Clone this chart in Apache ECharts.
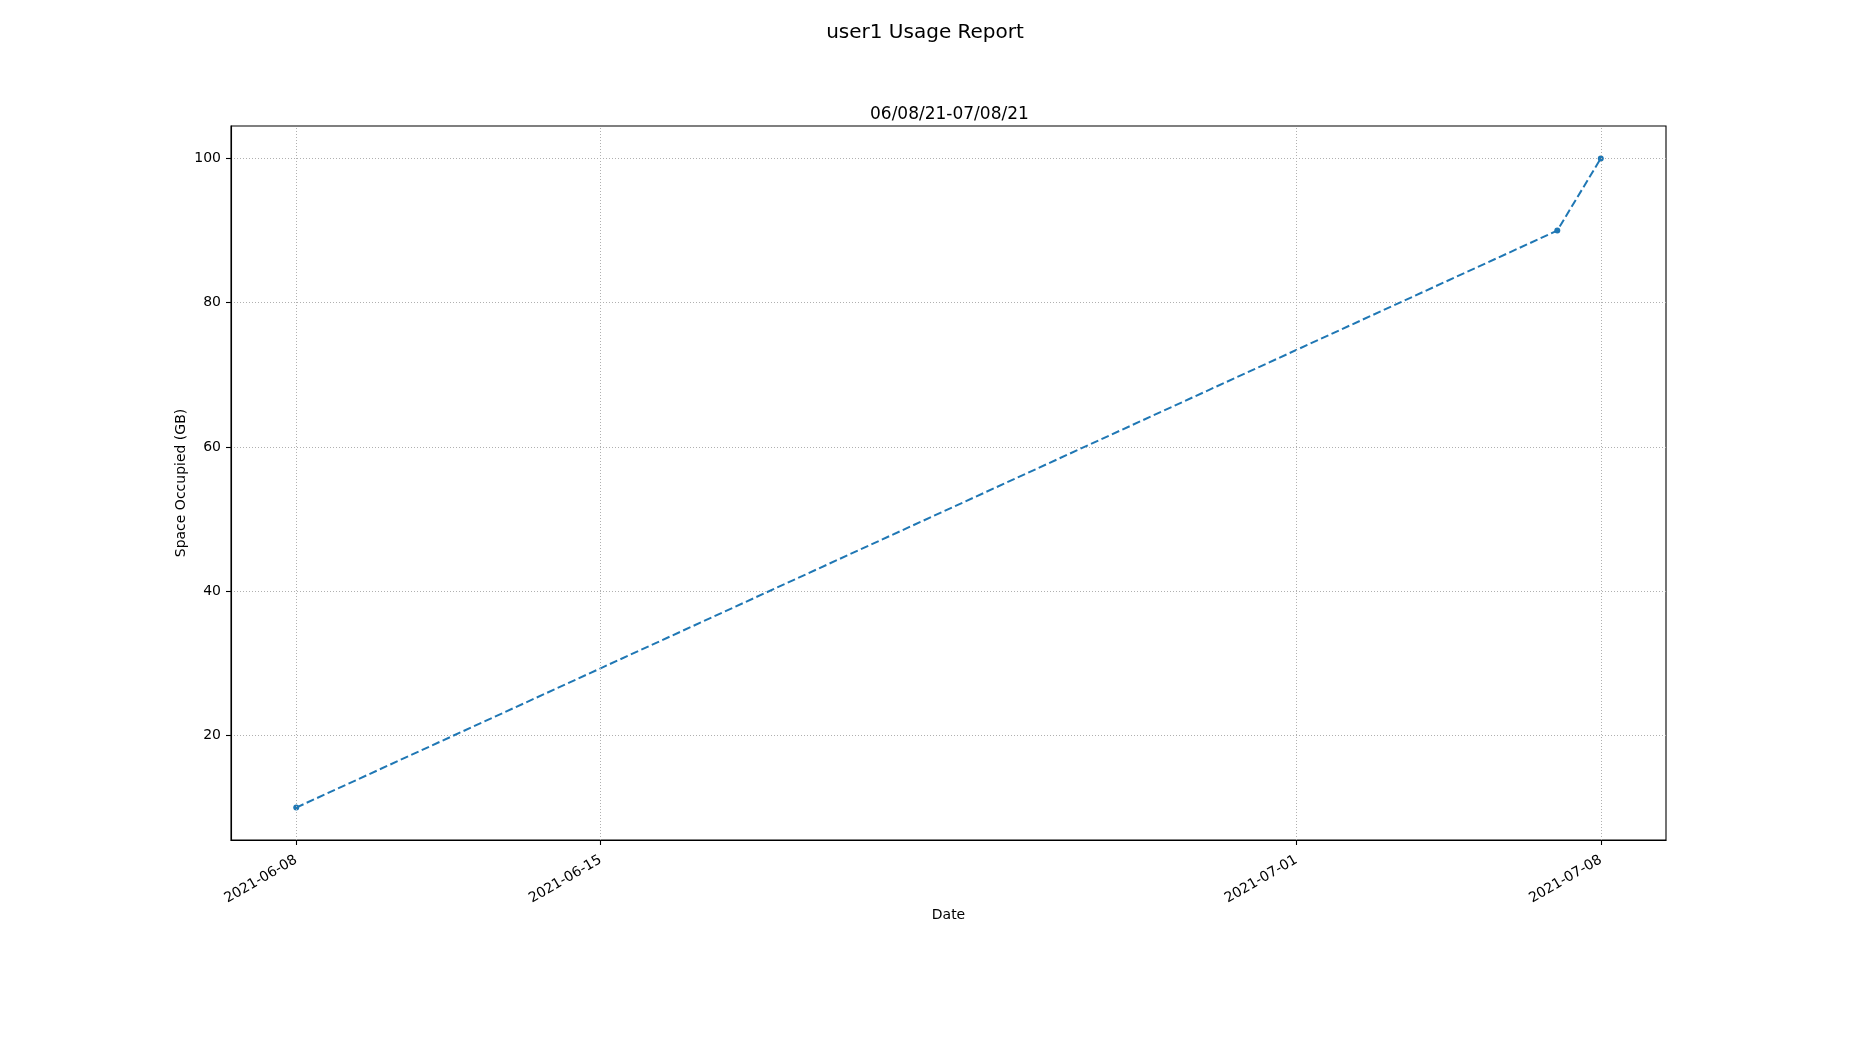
<!DOCTYPE html>
<html>
<head>
<meta charset="utf-8">
<title>user1 Usage Report</title>
<script src="https://cdn.jsdelivr.net/npm/echarts@6/dist/echarts.min.js"></script>
<style>
    html, body { margin: 0; padding: 0; background: #fff; }
    #chart { width: 1850px; height: 1050px; }
</style>
</head>
<body>
<div id="chart"></div>
<script>
// Usage samples
const sampleDates = ['2021-06-08', '2021-07-07', '2021-07-08'];
const usageGB = [10, 90, 100];

// Tick labels
const xTickDates = ['2021-06-08', '2021-06-15', '2021-07-01', '2021-07-08'];
const yTicks = [20, 40, 60, 80, 100];

function toTime(s) {
    const p = s.split('-').map(Number);
    return Date.UTC(p[0], p[1] - 1, p[2]);
}

function fmtDate(t) {
    const d = new Date(t);
    const mm = String(d.getUTCMonth() + 1).padStart(2, '0');
    const dd = String(d.getUTCDate()).padStart(2, '0');
    return d.getUTCFullYear() + '-' + mm + '-' + dd;
}

const xTimes = sampleDates.map(toTime);
const xTickTimes = xTickDates.map(toTime);

// matplotlib style 5% margins
const xSpan = xTimes[xTimes.length - 1] - xTimes[0];
const xMin = xTimes[0] - xSpan * 0.05;
const xMax = xTimes[xTimes.length - 1] + xSpan * 0.05;
const ySpan = Math.max(...usageGB) - Math.min(...usageGB);
const yMin = Math.min(...usageGB) - ySpan * 0.05;
const yMax = Math.max(...usageGB) + ySpan * 0.05;

const font = 'DejaVu Sans';
const gridStyle = { color: '#b0b0b0', width: 1, type: [1, 2] };

const chart = echarts.init(document.getElementById('chart'));

chart.setOption({
    animation: false,
    backgroundColor: '#ffffff',
    textStyle: { fontFamily: font, color: '#000' },
    title: [{
        text: 'user1 Usage Report',
        left: 'center',
        top: 18,
        textStyle: { fontFamily: font, fontSize: 20, fontWeight: 'normal', color: '#000' }
    }, {
        text: '06/08/21-07/08/21',
        left: 865,
        top: 101,
        textStyle: { fontFamily: font, fontSize: 17, fontWeight: 'normal', color: '#000' }
    }],
    grid: {
        left: 231, right: 184, top: 126, bottom: 210,
        show: true, borderColor: '#000', borderWidth: 1.1,
        containLabel: false
    },
    xAxis: {
        type: 'value',
        min: xMin,
        max: xMax,
        name: 'Date',
        nameLocation: 'middle',
        nameGap: 68,
        nameMoveOverlap: false,
        nameTextStyle: { fontFamily: font, fontSize: 14, color: '#000' },
        axisLine: { lineStyle: { color: '#000', width: 1.1 } },
        axisTick: { show: true, length: 5, lineStyle: { color: '#000', width: 1.1 }, customValues: xTickTimes },
        axisLabel: {
            rotate: 30, margin: 19, fontSize: 14, color: '#000', fontFamily: font,
            customValues: xTickTimes,
            formatter: v => fmtDate(v)
        },
        splitLine: { show: false }
    },
    yAxis: {
        type: 'value',
        min: yMin,
        max: yMax,
        splitNumber: 5,
        name: 'Space Occupied (GB)',
        nameLocation: 'middle',
        nameGap: 43,
        nameMoveOverlap: false,
        nameTextStyle: { fontFamily: font, fontSize: 14, color: '#000' },
        axisLine: { show: true, lineStyle: { color: '#000', width: 1.1 } },
        axisTick: { show: true, length: 5, lineStyle: { color: '#000', width: 1.1 }, customValues: yTicks },
        axisLabel: { margin: 10, fontSize: 14, color: '#000', fontFamily: font, customValues: yTicks },
        splitLine: { show: true, lineStyle: gridStyle }
    },
    series: [{
        // vertical grid lines at the date ticks
        type: 'line',
        data: [],
        z: 1,
        silent: true,
        markLine: {
            silent: true,
            symbol: 'none',
            label: { show: false },
            lineStyle: gridStyle,
            data: xTickTimes.map(t => ({ xAxis: t }))
        }
    }, {
        name: 'usage',
        type: 'line',
        z: 3,
        data: xTimes.map((t, i) => [t, usageGB[i]]),
        symbol: 'circle',
        symbolSize: 6,
        itemStyle: { color: '#1f77b4' },
        lineStyle: { color: '#1f77b4', width: 2, type: [8, 3.5] }
    }]
});
</script>
</body>
</html>
